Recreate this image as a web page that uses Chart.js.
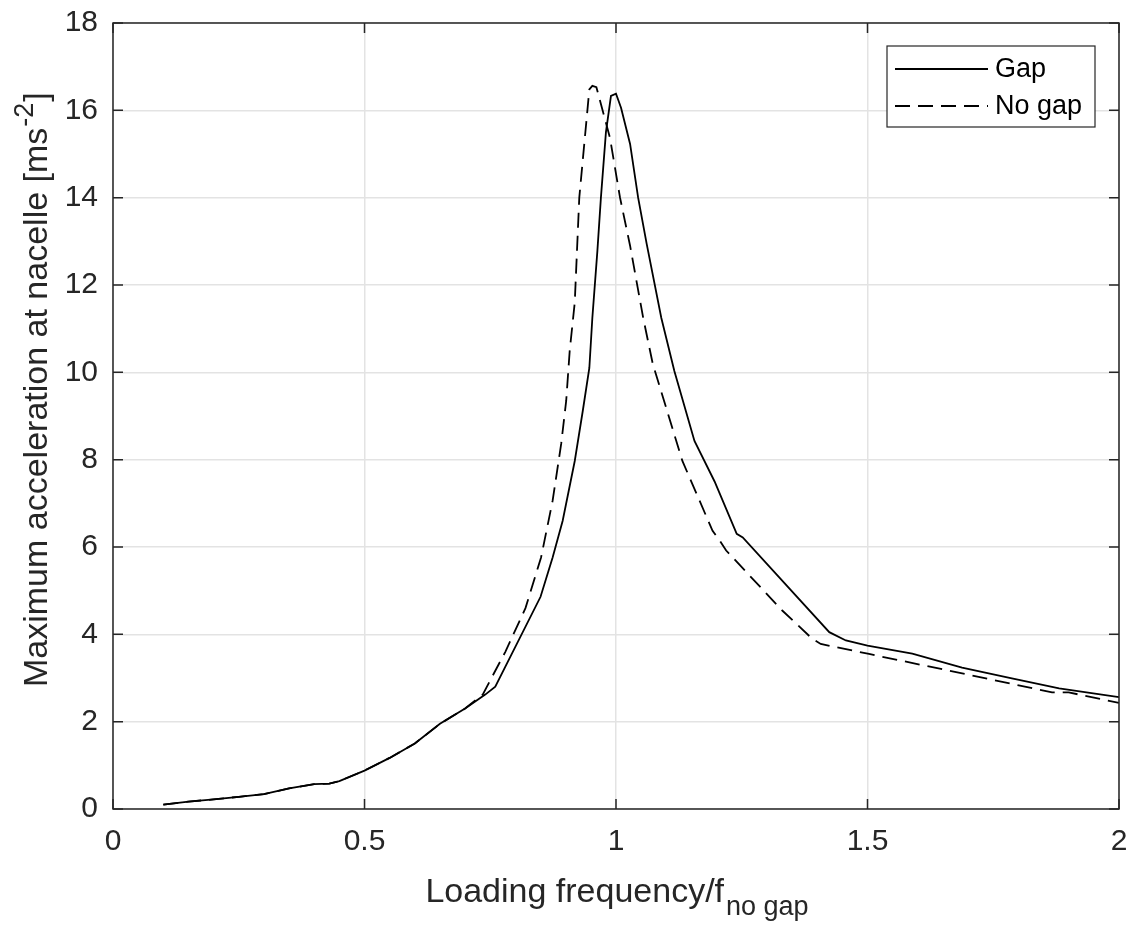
<!DOCTYPE html>
<html lang="en">
<head>
  <meta charset="UTF-8" />
  <title>Maximum acceleration at nacelle</title>
  <script src="https://cdn.jsdelivr.net/npm/chart.js"></script>
  <style>
    body { margin: 0; background: #fff; }
    canvas { display: block; }
  </style>
</head>
<body>
  <canvas id="accel-chart" width="1136" height="929"></canvas>

  <script>
    // frequency ratio / acceleration samples
    const gapX = [0.10, 0.15, 0.20, 0.25, 0.30, 0.35, 0.40, 0.43, 0.45, 0.50, 0.55, 0.60, 0.65, 0.70, 0.74,
                  0.76, 0.85, 0.874, 0.894, 0.918, 0.934, 0.947, 0.953, 0.963, 0.97, 0.98, 0.99, 1.0,
                  1.01, 1.028, 1.044, 1.061, 1.09, 1.116, 1.156, 1.196, 1.24, 1.252, 1.424, 1.457,
                  1.5, 1.589, 1.688, 1.787, 1.881, 2.0];
    const gapY = [0.10, 0.17, 0.22, 0.28, 0.34, 0.47, 0.57, 0.58, 0.64, 0.88, 1.17, 1.50, 1.95, 2.30, 2.62,
                  2.80, 4.86, 5.76, 6.60, 7.97, 9.12, 10.1, 11.25, 12.78, 14.0, 15.5, 16.33, 16.38,
                  16.06, 15.23, 14.0, 12.94, 11.25, 10.03, 8.43, 7.50, 6.30, 6.22, 4.05, 3.86,
                  3.74, 3.56, 3.24, 2.99, 2.76, 2.56];

    const noGapX = [0.10, 0.15, 0.20, 0.25, 0.30, 0.35, 0.40, 0.43, 0.45, 0.50, 0.55, 0.60, 0.65, 0.70, 0.735,
                    0.78, 0.82, 0.851, 0.874, 0.891, 0.901, 0.908, 0.918, 0.927, 0.947, 0.953, 0.961,
                    0.988, 1.008, 1.028, 1.054, 1.073, 1.132, 1.192, 1.206, 1.219, 1.331, 1.39, 1.407,
                    1.503, 1.695, 1.867, 1.9, 2.0];
    const noGapY = [0.10, 0.17, 0.22, 0.28, 0.34, 0.47, 0.57, 0.58, 0.64, 0.88, 1.17, 1.50, 1.95, 2.30, 2.62,
                    3.60, 4.60, 5.76, 7.06, 8.36, 9.35, 10.5, 11.6, 14.0, 16.48, 16.56, 16.53,
                    15.37, 14.0, 12.9, 11.25, 10.2, 7.97, 6.37, 6.15, 5.92, 4.54, 3.90, 3.78,
                    3.55, 3.09, 2.67, 2.67, 2.43];

    const xTicks = [0, 0.5, 1, 1.5, 2];
    const yTicks = [0, 2, 4, 6, 8, 10, 12, 14, 16, 18];

    const FONT = '"Liberation Sans", Arial, Helvetica, sans-serif';
    const INK = '#262626';

    const toPoints = (xs, ys) => xs.map((x, i) => ({ x: x, y: ys[i] }));

    // keep the plot box fixed: no extra room for overhanging tick labels
    const fixScale = size => s => {
      if (s.isHorizontal()) s.height = size; else s.width = size;
      s.paddingTop = s.paddingBottom = s.paddingLeft = s.paddingRight = 0;
    };

    // axis box, inward ticks, legend and the axis titles with sub/superscripts
    const matlabAxes = {
      id: 'matlabAxes',
      afterDatasetsDraw(chart) {
        const { ctx, chartArea: a, scales } = chart;
        ctx.save();
        ctx.strokeStyle = INK;
        ctx.lineWidth = 1.5;
        ctx.strokeRect(a.left, a.top, a.right - a.left, a.bottom - a.top);

        const tl = 10;
        ctx.beginPath();
        xTicks.forEach(v => {
          const px = scales.x.getPixelForValue(v);
          ctx.moveTo(px, a.bottom); ctx.lineTo(px, a.bottom - tl);
          ctx.moveTo(px, a.top);    ctx.lineTo(px, a.top + tl);
        });
        yTicks.forEach(v => {
          const py = scales.y.getPixelForValue(v);
          ctx.moveTo(a.left, py);  ctx.lineTo(a.left + tl, py);
          ctx.moveTo(a.right, py); ctx.lineTo(a.right - tl, py);
        });
        ctx.stroke();

        // legend
        const lx = 887, ly = 46, lw = 208, lh = 81;
        ctx.fillStyle = '#fff';
        ctx.fillRect(lx, ly, lw, lh);
        ctx.lineWidth = 1.2;
        ctx.strokeRect(lx, ly, lw, lh);
        ctx.font = '27px ' + FONT;
        ctx.textBaseline = 'middle';
        chart.data.datasets.forEach((ds, i) => {
          const ry = ly + 23 + i * 37;
          ctx.strokeStyle = ds.borderColor;
          ctx.lineWidth = ds.borderWidth;
          ctx.setLineDash(ds.borderDash || []);
          ctx.beginPath();
          ctx.moveTo(lx + 8, ry); ctx.lineTo(lx + 101, ry);
          ctx.stroke();
          ctx.setLineDash([]);
          ctx.fillStyle = '#000';
          ctx.fillText(ds.label, lx + 108, ry + 1);
        });

        // x title
        ctx.fillStyle = INK;
        ctx.textBaseline = 'alphabetic';
        ctx.font = '34px ' + FONT;
        const main = 'Loading frequency/f';
        const sub = 'no gap';
        const mw = ctx.measureText(main).width;
        ctx.font = '27px ' + FONT;
        const sw = ctx.measureText(sub).width;
        const cx = (a.left + a.right) / 2;
        const x0 = cx - (mw + sw) / 2;
        ctx.font = '34px ' + FONT;
        ctx.fillText(main, x0, 902);
        ctx.font = '27px ' + FONT;
        ctx.fillText(sub, x0 + mw + 2, 915);

        // y title
        ctx.translate(47, 687);
        ctx.rotate(-Math.PI / 2);
        ctx.font = '34px ' + FONT;
        const yMain = 'Maximum acceleration at nacelle [ms';
        ctx.fillText(yMain, 0, 0);
        let w = ctx.measureText(yMain).width;
        ctx.font = '27px ' + FONT;
        ctx.fillText('-2', w + 1, -14);
        w += ctx.measureText('-2').width + 2;
        ctx.font = '34px ' + FONT;
        ctx.fillText(']', w, 0);
        ctx.restore();
      }
    };

    new Chart(document.getElementById('accel-chart'), {
      type: 'line',
      data: {
        datasets: [
          {
            label: 'Gap',
            data: toPoints(gapX, gapY),
            borderColor: '#000',
            borderWidth: 1.8,
            pointRadius: 0,
            tension: 0
          },
          {
            label: 'No gap',
            data: toPoints(noGapX, noGapY),
            borderColor: '#000',
            borderWidth: 1.8,
            borderDash: [15, 8],
            pointRadius: 0,
            tension: 0
          }
        ]
      },
      options: {
        responsive: false,
        animation: false,
        layout: { padding: { left: 0, top: 23, right: 17, bottom: 0 } },
        plugins: { legend: { display: false }, tooltip: { enabled: false } },
        scales: {
          x: {
            type: 'linear',
            min: 0, max: 2,
            afterFit: fixScale(120),
            afterBuildTicks: s => { s.ticks = xTicks.map(v => ({ value: v })); },
            grid: { color: '#e3e3e3', lineWidth: 1.5, drawTicks: false },
            border: { display: false },
            ticks: {
              color: INK, font: { family: FONT, size: 30 }, padding: 15, maxRotation: 0,
              callback: v => String(v)
            }
          },
          y: {
            type: 'linear',
            min: 0, max: 18,
            afterFit: fixScale(113),
            afterBuildTicks: s => { s.ticks = yTicks.map(v => ({ value: v })); },
            grid: { color: '#e3e3e3', lineWidth: 1.5, drawTicks: false },
            border: { display: false },
            ticks: { color: INK, font: { family: FONT, size: 30 }, padding: 15 }
          }
        }
      },
      plugins: [matlabAxes]
    });
  </script>
</body>
</html>
